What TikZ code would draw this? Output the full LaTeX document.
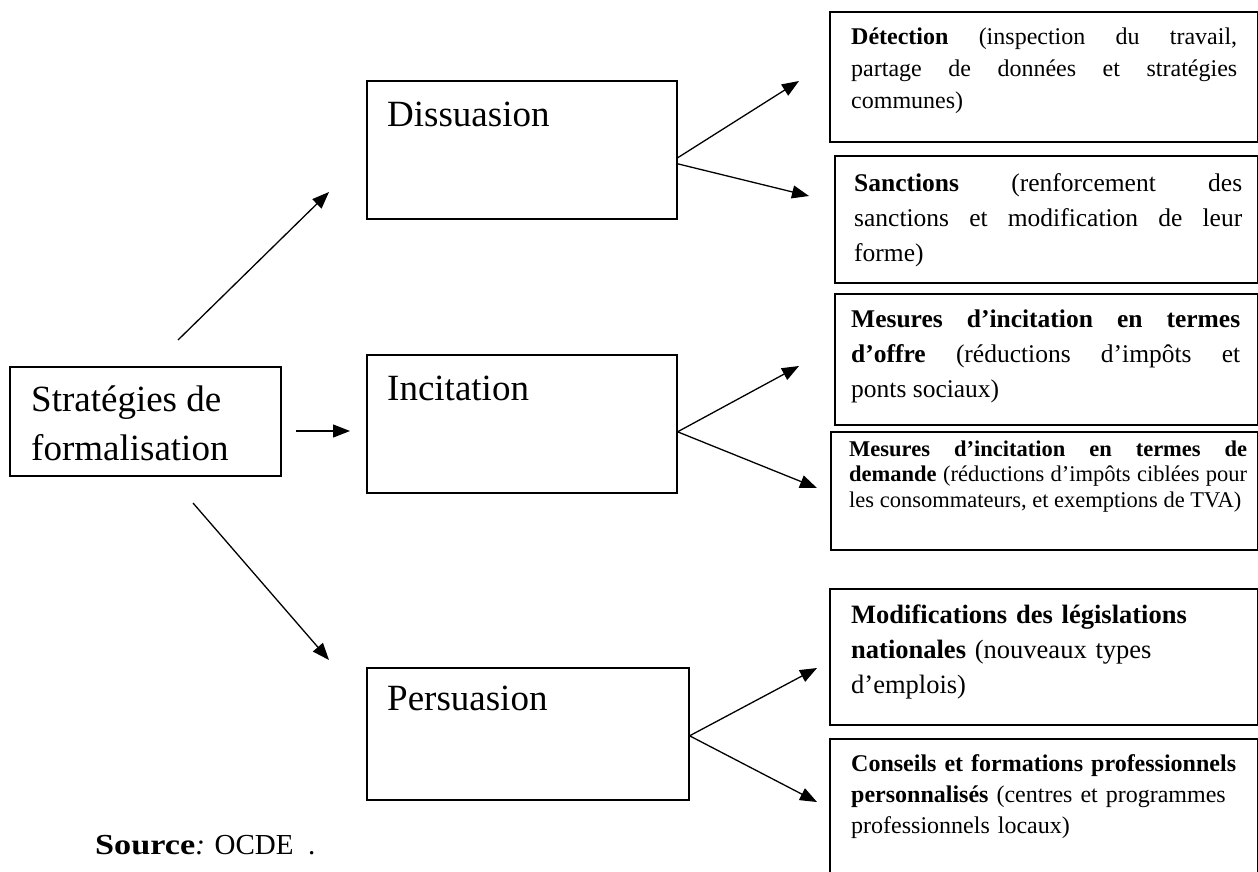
\documentclass[tikz,border=0pt]{standalone}
\usepackage{fontspec}
\setmainfont{Liberation Serif}
\usetikzlibrary{arrows.meta}
\begin{document}
\begin{tikzpicture}[x=1pt,y=-1pt,
  box/.style={draw,line width=1.6pt,inner sep=0pt,anchor=north west},
  arr/.style={line width=1.3pt,-{Triangle[length=17pt,width=13pt]}},
  bigtxt/.style={inner sep=0pt,font=\fontsize{37}{49}\selectfont},
  rtxt/.style={anchor=base west,inner sep=0pt},
]
\useasboundingbox[fill=white] (0,0) rectangle (1258,871);

% left boxes
\node[box,minimum width=271pt,minimum height=109pt] (strat) at (9,366) {};
\node[box,minimum width=310pt,minimum height=138pt] (diss) at (366,80) {};
\node[box,minimum width=310pt,minimum height=138pt] (inc) at (366,354) {};
\node[box,minimum width=322pt,minimum height=132pt] (pers) at (366,667) {};

\node[bigtxt,anchor=north west,align=left] (strattxt) at (31,385.5) {Stratégies de\\formalisation};
\node[bigtxt,anchor=base west] (disstxt) at (387,126) {Dissuasion};
\node[bigtxt,anchor=base west] (inctxt) at (387,400) {Incitation};
\node[bigtxt,anchor=base west] (perstxt) at (387,710) {Persuasion};

% right boxes
\node[box,minimum width=428pt,minimum height=130pt] (det) at (829,11) {};
\node[box,minimum width=423pt,minimum height=127pt] (sanc) at (834,155) {};
\node[box,minimum width=423pt,minimum height=131pt] (offre) at (834,293) {};
\node[box,minimum width=427pt,minimum height=118pt] (dem) at (830,431) {};
\node[box,minimum width=428pt,minimum height=136pt] (legis) at (829,588) {};
\node[box,minimum width=428pt,minimum height=170pt] (cons) at (829,738) {};

\node[rtxt,font=\fontsize{24}{32}\selectfont,text width=386pt,align=justify] (dettxt) at (851,44)
  {\textbf{Détection} (inspection du travail,\linebreak partage de données et stratégies\linebreak communes)};
\node[rtxt,font=\fontsize{25.5}{35}\selectfont,text width=388pt,align=justify] (sanctxt) at (854,191)
  {\textbf{Sanctions} (renforcement des\linebreak sanctions et modification de leur\linebreak forme)};
\node[rtxt,font=\fontsize{25.5}{35}\selectfont,text width=389pt,align=justify] (offretxt) at (851,327)
  {\textbf{Mesures d’incitation en termes}\linebreak \textbf{d’offre} (réductions d’impôts et\linebreak ponts sociaux)};
\node[rtxt,font=\fontsize{22.5}{25.5}\selectfont,text width=398pt,align=justify] (demtxt) at (849,456)
  {\textbf{Mesures d’incitation en termes de}\linebreak \textbf{demande} (réductions d’impôts ciblées pour\linebreak les consommateurs, et exemptions de TVA)};
\node[rtxt,font=\fontsize{26.5}{35}\selectfont,text width=400pt,align=left] (legistxt) at (851,623)
  {\textbf{Modifications des législations}\\ \textbf{nationales} (nouveaux types\\ d’emplois)};
\node[rtxt,font=\fontsize{24}{31}\selectfont,text width=400pt,align=left] (constxt) at (851,771)
  {\textbf{Conseils et formations professionnels}\\ \textbf{personnalisés} (centres et programmes\\ professionnels locaux)};

\node[rtxt,font=\fontsize{29}{34}\selectfont] (src) at (95,854) {\scalebox{1.18}[1]{\textbf{Source}}\textit{:} OCDE\ \ .};

% arrow end points
\coordinate (s1) at (178,340);
\coordinate (e1) at (329,192);
\coordinate (s2) at (296,431);
\coordinate (e2) at (350,431);
\coordinate (s3) at (193,503);
\coordinate (e3) at (329,660);
\coordinate (e4) at (799,81);
\coordinate (e5) at (809,196);
\coordinate (e6) at (799,366);
\coordinate (e7) at (817,488);
\coordinate (e8) at (817,668);
\coordinate (e9) at (817,802);

\draw[arr] (s1) -- (e1);
\draw[arr] (s2) -- (e2);
\draw[arr] (s3) -- (e3);
\draw[arr] ([yshift=-8pt]diss.east) -- (e4);
\draw[arr] ([yshift=-14pt]diss.east) -- (e5);
\draw[arr] ([yshift=-8pt]inc.east) -- (e6);
\draw[arr] ([yshift=-8pt]inc.east) -- (e7);
\draw[arr] ([yshift=-2pt]pers.east) -- (e8);
\draw[arr] ([yshift=-2pt]pers.east) -- (e9);
\end{tikzpicture}
\end{document}
